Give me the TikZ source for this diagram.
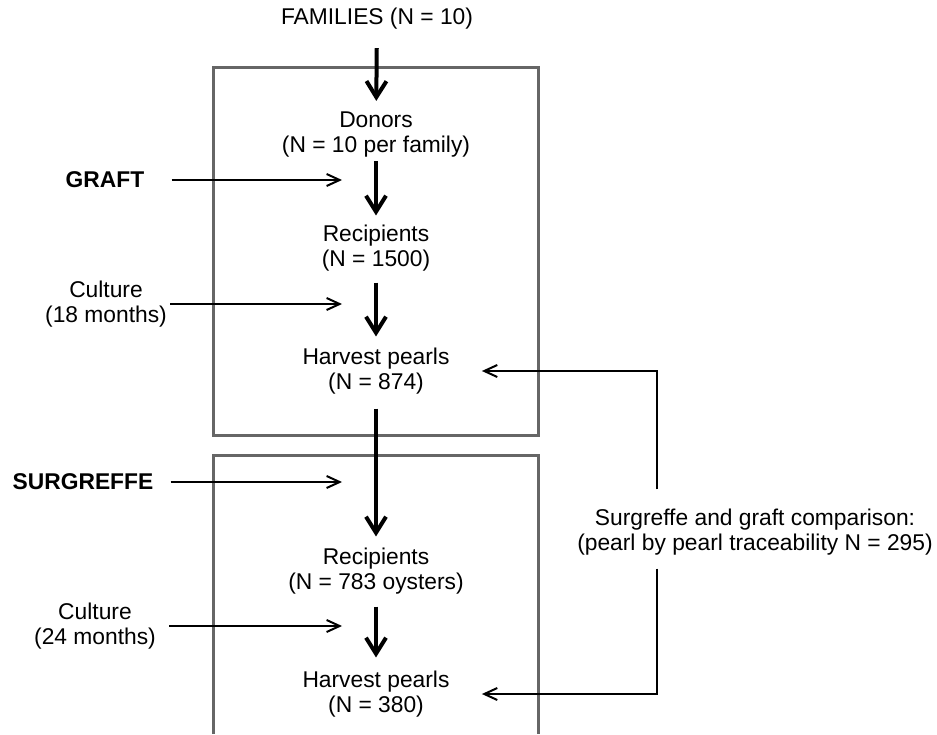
\documentclass[tikz,border=0pt]{standalone}
\usepackage{fontspec}
\setmainfont{Liberation Sans}
\usetikzlibrary{arrows.meta}
\tikzset{
    stage/.style={
      align=center,
      inner sep=0pt,
      font=\fontsize{11.4pt}{12.5pt}\selectfont},
    sidelabel/.style={stage},
    headlabel/.style={stage, font=\fontsize{11.4pt}{12.5pt}\selectfont\bfseries},
    frame/.style={draw=black!60, line width=1.5pt},
    flow/.style={draw, line width=2pt, -{Straight Barb[length=8pt,width=10pt]},
      shorten <=6pt, shorten >=5.5pt},
    feed/.style={draw, line width=1pt, -{Straight Barb[length=6.5pt,width=6pt]}},
}

\begin{document}
\begin{tikzpicture}[x=0.5pt,y=-0.5pt]
        \useasboundingbox (0,0) rectangle (937,734);
        \draw[frame] (213,67) rectangle (538,435);
        \draw[frame] (213,734) |- (538,455) -- (538,734);

        \node[stage] (families) at (377,19)  {FAMILIES (N = 10)};
        \node[stage] (donors)   at (376,135) {Donors\\(N = 10 per family)};
        \node[stage] (recip1)   at (376,248) {Recipients\\(N = 1500)};
        \node[stage] (harvest1) at (376,371) {Harvest pearls\\(N = 874)};
        \node[stage] (recip2)   at (376,571) {Recipients\\(N = 783 oysters)};
        \node[stage] (harvest2) at (376,694) {Harvest pearls\\(N = 380)};

        \node[headlabel] (graft)     at (105,180) {GRAFT};
        \node[sidelabel] (culture1)  at (106,304) {Culture\\(18 months)};
        \node[headlabel] (surgreffe) at (83,482)  {SURGREFFE};
        \node[sidelabel] (culture2)  at (95,626)  {Culture\\(24 months)};
        \node[stage] (compare) at (755,532) {Surgreffe and graft comparison:\\(pearl by pearl traceability N = 295)};

        \coordinate (graftin)     at (342,180);
        \coordinate (culturein1)  at (342,304);
        \coordinate (surgreffein) at (342,482);
        \coordinate (culturein2)  at (342,626);

        \draw[flow, shorten <=9pt] (families) -- (donors);
        \draw[flow, shorten <=1.5pt, shorten >=4.5pt] (donors) -- (recip1);
        \draw[flow, shorten <=5.5pt] (recip1) -- (harvest1);
        \draw[flow, shorten <=7pt] (harvest1) -- (recip2);
        \draw[flow, shorten >=6.5pt] (recip2) -- (harvest2);

        \draw[feed, shorten <=13.5pt] (graft) -- (graftin);
        \draw[feed, shorten <=1.5pt] (culture1) -- (culturein1);
        \draw[feed, shorten <=8.5pt] (surgreffe) -- (surgreffein);
        \draw[feed, shorten <=6.5pt] (culture2) -- (culturein2);

        \draw[feed, shorten <=9.5pt, shorten >=16pt] ([xshift=-49pt]compare.north) |- (harvest1);
        \draw[feed, shorten <=6.5pt, shorten >=16pt] ([xshift=-49pt]compare.south) |- (harvest2);
    \end{tikzpicture}
\end{document}
